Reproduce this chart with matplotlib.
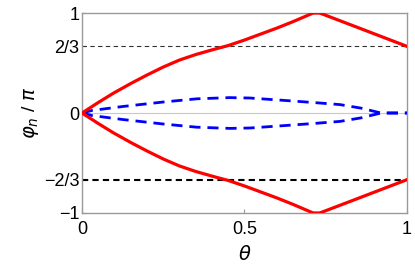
import matplotlib
matplotlib.use("Agg")
import matplotlib.pyplot as plt
import numpy as np

plt.rcParams["font.family"] = ["Liberation Sans", "DejaVu Sans"]
plt.rcParams["mathtext.fontset"] = "dejavusans"

# upper red branch (lower one is its mirror)
theta_red = [0.0, 0.05, 0.096, 0.15, 0.2, 0.25, 0.3, 0.35, 0.404, 0.45,
             0.5, 0.55, 0.6, 0.65, 0.711, 0.732, 0.845, 1.0]
phi_red = [0.0, 0.105, 0.197, 0.295, 0.38, 0.46, 0.53, 0.585, 0.635, 0.675,
           0.73, 0.79, 0.85, 0.915, 1.0, 1.0, 0.86, 0.667]

# upper blue branch (lower one is its mirror)
theta_blue = [0.0, 0.03, 0.125, 0.25, 0.353, 0.455, 0.517, 0.64, 0.72,
              0.794, 0.86, 0.92, 1.0]
phi_blue = [0.0, 0.025, 0.065, 0.11, 0.142, 0.154, 0.15, 0.122, 0.103,
            0.084, 0.048, 0.0, 0.0]

yticks = [-1, -2/3, 0, 2/3, 1]
ytick_labels = ["\u22121", "\u22122/3", "0", "2/3", "1"]
xticks = [0, 0.5, 1]
xtick_labels = ["0", "0.5", "1"]

fig = plt.figure(figsize=(4.15, 2.78), dpi=100)
ax = fig.add_axes([0.1976, 0.234, 0.783, 0.719])

ax.axhline(0, color="#c8c8c8", lw=0.8, zorder=1)
ax.axhline(2/3, color="#333333", lw=0.8, ls=(0, (4, 3)), zorder=2)
ax.axhline(-2/3, color="black", lw=1.5, ls=(0, (3, 2)), zorder=2)

tr = np.array(theta_red)
pr = np.array(phi_red)
ax.plot(tr, pr, color="#ff0000", lw=2.3, zorder=4, solid_joinstyle="round")
ax.plot(tr, -pr, color="#ff0000", lw=2.3, zorder=4, solid_joinstyle="round")

tb = np.array(theta_blue)
pb = np.array(phi_blue)
ax.plot(tb, pb, color="#0000ff", lw=2.0, ls=(0, (4, 2.5)), zorder=3)
ax.plot(tb, -pb, color="#0000ff", lw=2.0, ls=(0, (4, 2.5)), zorder=3)

ax.set_xlim(0, 1)
ax.set_ylim(-1, 1)
ax.set_xticks(xticks)
ax.set_xticklabels(xtick_labels)
ax.set_yticks(yticks)
ax.set_yticklabels(ytick_labels)
ax.tick_params(direction="in", length=3, width=0.8, color="#999999",
               labelsize=13, pad=2)
ax.tick_params(axis="x", pad=6)
for sp in ax.spines.values():
    sp.set_color("#999999")
    sp.set_linewidth(1.0)

ax.set_xlabel(r"$\theta$", fontsize=14, labelpad=5)
ax.set_ylabel(r"$\varphi_n$ / $\pi$", fontsize=14, labelpad=2)

fig.savefig("out.png", dpi=100)
